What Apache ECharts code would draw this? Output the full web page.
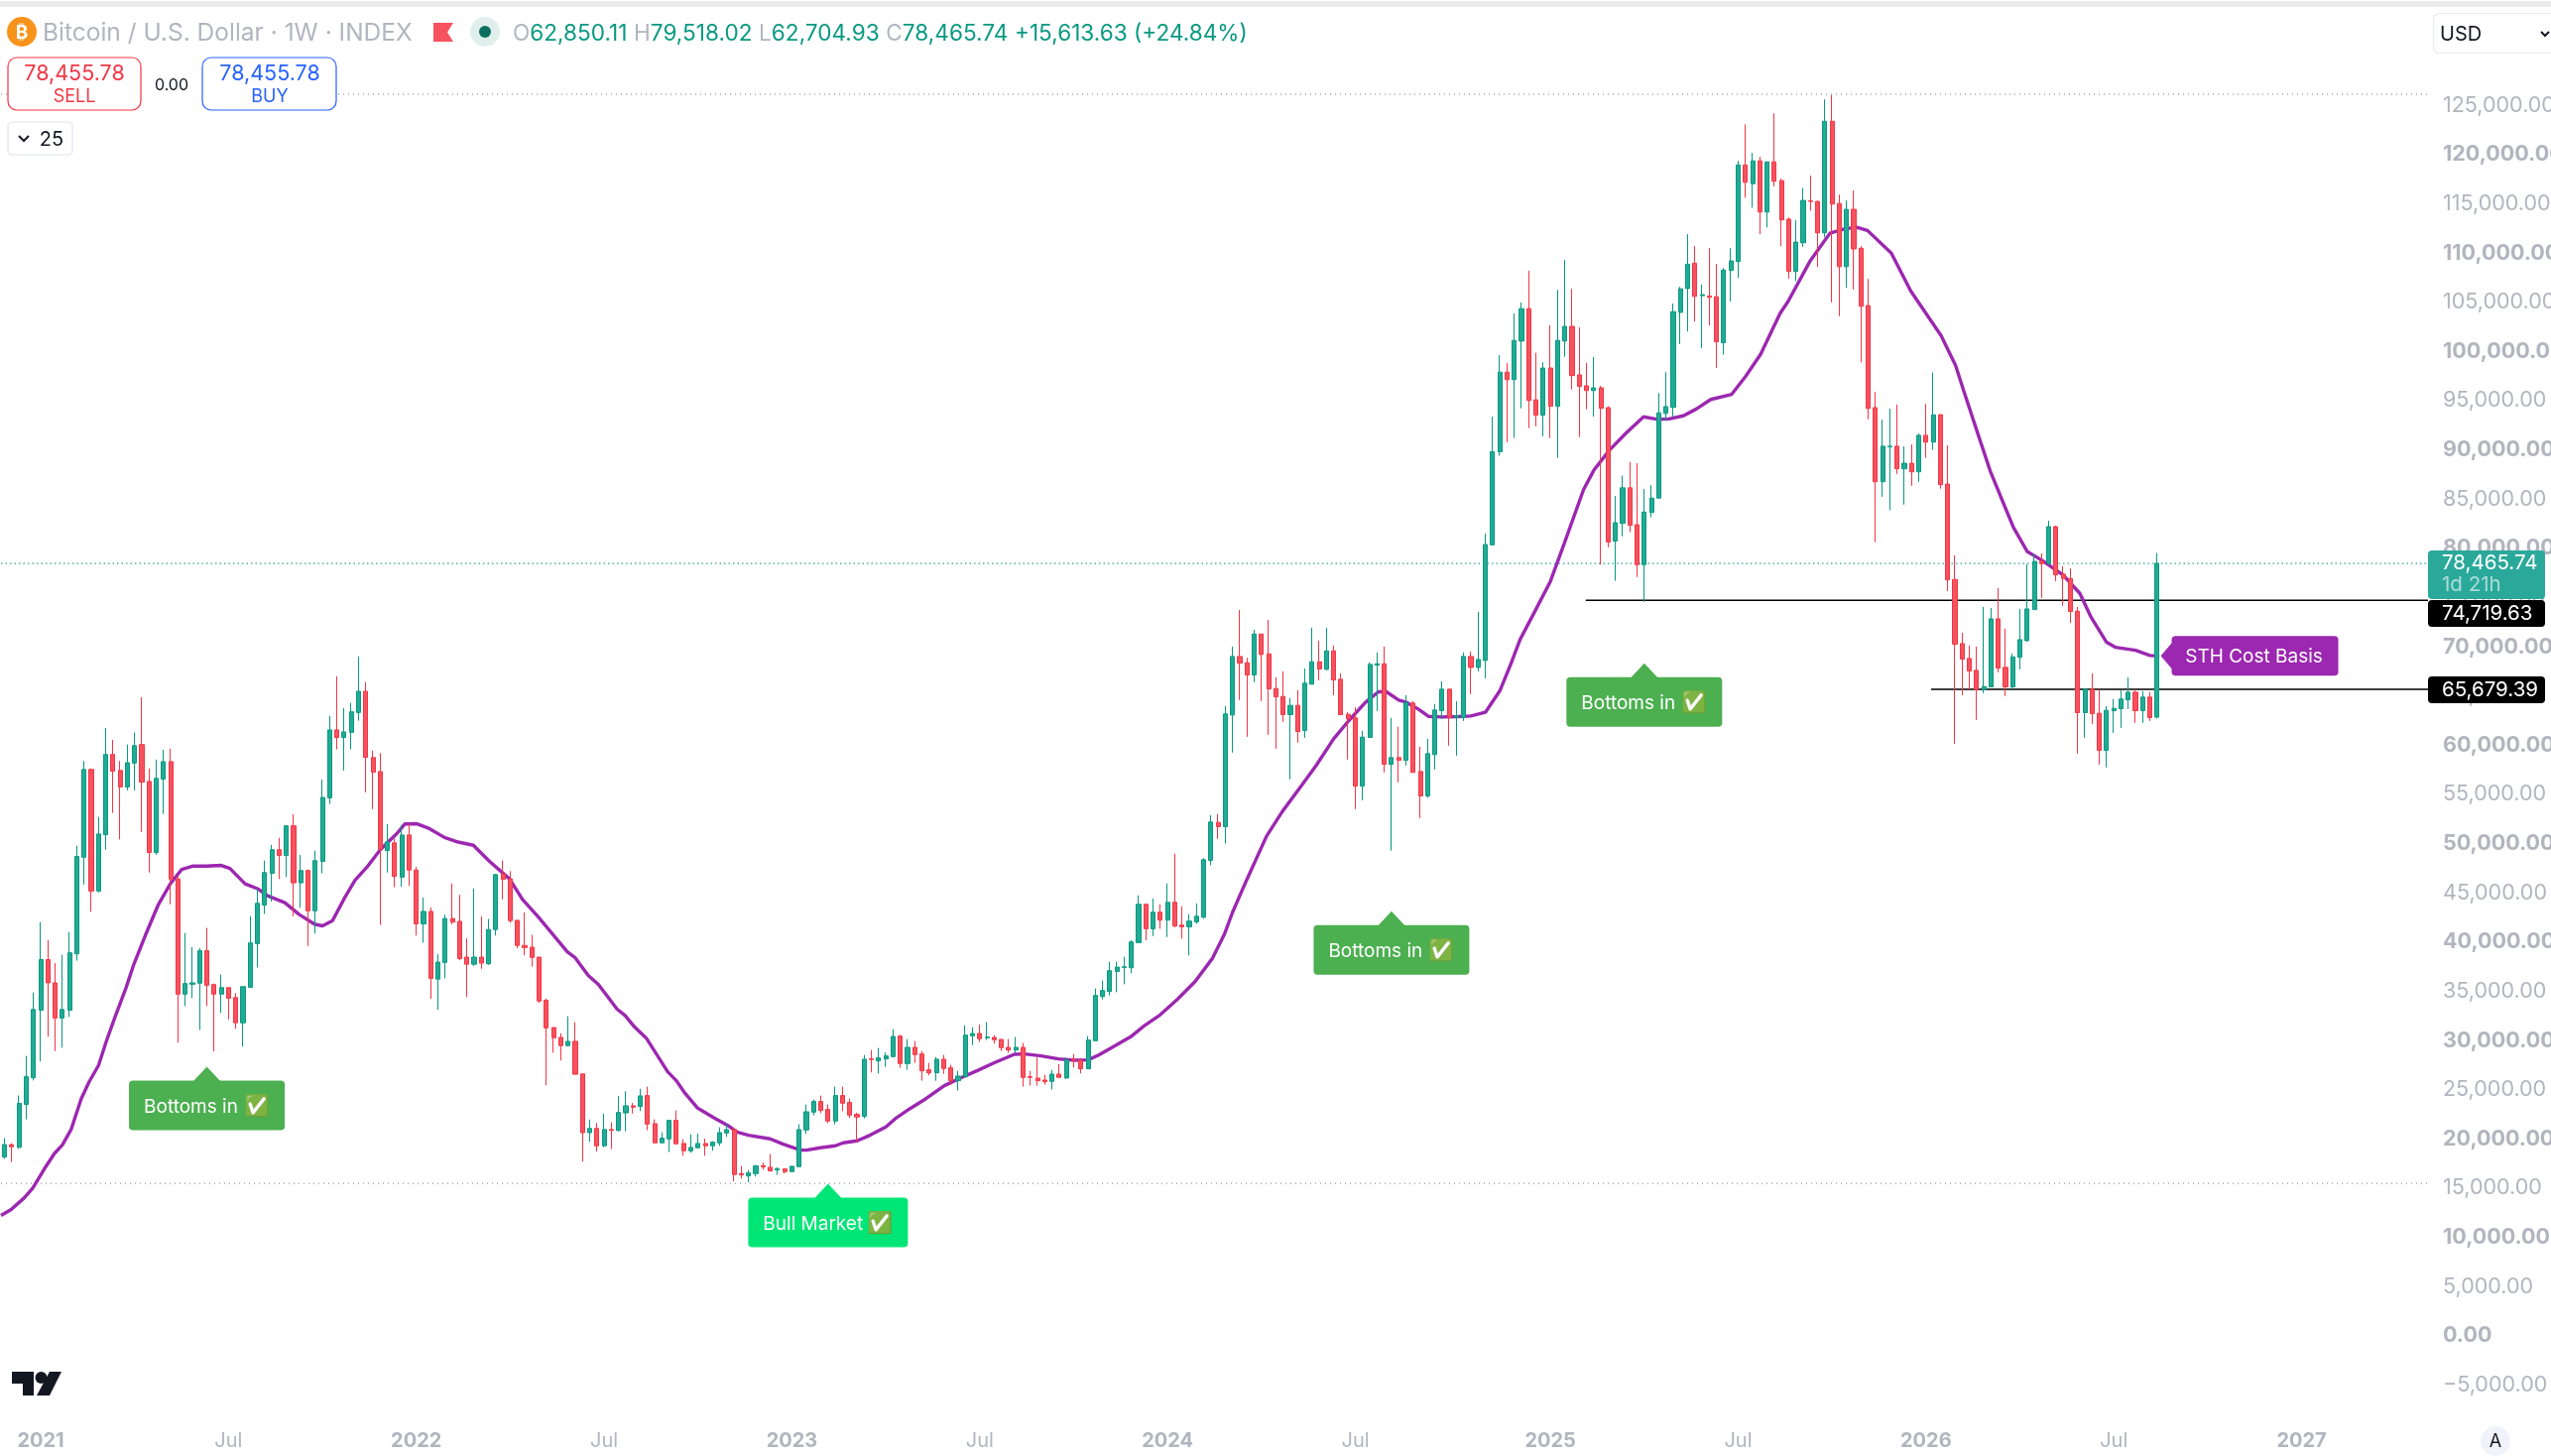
<!DOCTYPE html>
<html><head><meta charset="utf-8"><title>BTC weekly</title>
<script src="https://cdn.jsdelivr.net/npm/echarts@6/dist/echarts.min.js"></script>
<style>html,body{margin:0;padding:0;background:#fff}#c{width:2572px;height:1468px}</style></head>
<body><div id="c"></div>
<script>
// Weekly candles, each row is [open, close, low, high]
const candles2021 = [
[18167,19415,17993,20074],[19415,19200,17650,19550],[19138,23611,18980,24409],[23507,26316,21981,28431],[26213,33149,25937,34883],
[33079,38212,27877,42027],[38212,35853,30374,40188],[35853,32282,28918,37865],[32282,33149,29264,38697],[33079,38906,32386,41021],
[38801,48685,38108,49795],[48616,57528,45841,58396],[57528,45182,43067,57632],[45182,50974,45043,52708],[50905,59054,49379,61759],
[59054,57355,53124,60546],[57424,55760,50419,58396],[55760,58222,55413,60060],[58187,59956,55413,61274],[60060,56245,51182,64880],
[56315,49101,47055,57632],[49101,56627,48858,58535],[56557,58326,53020,59540],[58326,46396,43830,59644],[46396,34709,29785,46800],
[34709,35784,33495,40916],[35714,35853,34293,39495],[35818,39113,31067,39391],[39113,35610,33495,41437],[35679,34709,28883,35784],
[34709,35367,32802,36686],[35367,34293,32143,35367],[34362,31796,31171,34813],[31796,35471,29367,35471],[35402,39911,35402,42616],
[39842,43934,37414,45391],[43761,47055,42858,48269],[46986,49379,44107,49864],[49379,48789,46396,50592],[48789,51806,46604,51876],
[51806,46015,42616,52986],[46015,47263,43483,48858],[47263,43171,39599,47367],[43171,48269,40847,49275],[48199,54684,46985,56523],
[54650,61551,54026,62973],[61551,60788,59574,66996],[60788,61343,57424,63771],[61308,63389,59574,64291],[63320,65470,62488,69007],
[65470,58777,55205,66407],[58742,57251,53500,59436],[57320,49448,41749,59193],[49310,50176,47055,51980],[50072,46674,45564,50500],
[46595,50873,45623,51880]];
const candles2022 = [
[50873,47313,45695,52024],[47313,41847,40660,47637],[41847,43106,39942,44509],[43106,36310,34224,43502],[36238,37964,33109,38755],
[37928,42387,36310,42783],[42387,42027,41811,45947],[42099,38323,38143,44797],[38467,37748,34403,40373],[37748,38467,37568,45408],
[38467,37856,37280,42603],[37784,41272,37676,42351],[41272,46846,40660,46918],[46918,46378,44329,48284],[46414,42171,41955,47206],
[42207,39654,39366,42207],[39654,39438,38647,42999],[39474,38431,37496,40733],[38467,34008,33828,38467],[34080,31276,25450,34260],
[31312,30270,28758,31312],[30306,29477,27968,30737],[29477,29909,29405,32462],[29909,26565,26565,31852],[26601,20631,17682,26601],
[20631,21063,19697,21963],[21063,19300,18725,21603],[19300,20955,19156,22573],[20950,20870,18976,21675],[20849,22681,20777,24371],
[22645,23364,20777,24838],[23364,23220,22573,23650],[23292,24371,22825,25090],[24399,21512,20874,25306],[21546,19598,19598,21982],
[19598,20068,19598,20673],[19999,21881,18659,21948],[21881,19498,19498,22889],[19532,18793,18289,19968],[18793,19129,18592,20472],
[19096,19532,19096,20539],[19532,19297,18289,20035],[19297,19666,18793,19767],[19599,20639,19297,21177],[20606,20941,20203,21546],
[20941,16375,15671,21143],[16476,16341,15973,17249],[16241,16543,15570,16845],[16476,17249,16174,17349],[17282,17148,16879,17584],
[17114,16745,16677,18457],[16845,16979,16342,17114],[16946,16678,16476,17014]];
const candles2023 = [
[16678,17215,16678,17215],[17182,20941,17182,21478],[20908,22754,20505,23493],[22721,23794,22385,23996],[23794,22888,22620,24399],
[22989,21814,21612,23493],[21814,24399,21478,25306],[24399,23627,22821,25306],[23694,22418,22116,24097],[22486,22217,19699,22653],
[22284,28092,22083,28528],[28126,28059,26749,29032],[27924,28226,26648,29234],[28126,28428,27320,28797],[28360,30408,28260,31147],
[30442,27655,27219,30576],[27655,29301,27018,30139],[29301,28562,27723,29938],[28629,26917,25910,28931],[27018,26716,26447,27723],
[26716,28092,25910,28327],[28092,27152,26615,28528],[27219,25910,25507,27521],[25910,26380,24903,26917],[26313,30543,26313,31550],
[30475,30710,29535,31348],[30710,30173,29837,31617],[30274,30341,30039,31852],[30307,30072,29670,30543],[30106,29267,28931,30106],
[29301,29032,28729,30140],[29032,29301,28729,30341],[29301,26246,25306,29737],[26313,26246,25407,26917],[26179,25910,25407,28260],
[25977,25809,25507,26514],[25843,26581,25004,27018],[26581,26246,26246,27588],[26179,28025,26112,28260],[28092,27991,27253,28629],
[27991,27118,26648,28125],[27118,30039,27118,30442],[29972,34571,29972,35276],[34470,35074,34168,36082],[34974,37089,34571,37995],
[37019,37455,34902,37992],[37422,37489,35708,38495],[37388,40007,36818,40175],[39940,43833,39940,44739],[43833,41349,40175,43833],
[41349,43027,40611,44437],[43027,42222,41349,43833]];
const candles2024 = [
[42222,44035,40510,45948],[44035,41618,41517,48970],[41718,41551,40343,43632],[41551,42121,38631,42826],[42054,42624,41853,43934],
[42524,48365,42356,48533],[48298,52193,47795,52897],[52159,51722,50480,52998],[51722,63170,50017,63976],[63069,69011,59242,70018],
[69011,68340,64580,73744],[68373,67131,60853,68877],[67131,71294,66392,71730],[71294,69212,64479,71294],[69279,65721,61055,72737],
[65755,64915,59645,66896],[64949,63103,62364,67500],[63103,64043,56523,64781],[64043,61391,60249,65587],[61491,66292,60753,67802],
[66191,68474,66191,71931],[68474,67735,66594,70622],[67702,69582,67601,71931],[69582,66627,65083,70119],[66694,63103,63103,67299],
[63136,62666,58537,63338],[62767,55851,53501,63841],[55851,60820,54408,61458],[60786,68205,60786,68407],[68138,68272,63472,69414],
[68272,58067,57228,70018],[58067,58738,49272,62767],[58738,58470,56221,61861],[58470,64345,57933,65083],[64278,57228,57228,64479],
[57329,54844,52595,59846],[54844,59141,54643,60652],[59041,63573,57530,64177],[63506,65688,62666,66493],[65688,62834,59947,65688],
[62834,62967,58940,64479],[62800,69011,62465,69414],[69011,67903,65184,69515],[67903,68709,67500,73543],[68608,80385,66795,81495],
[80349,89817,80349,93390],[89817,97898,89402,99633],[97898,97135,90789,98835],[97135,101124,91205,103863],[101054,104349,94222,104973],
[104349,95020,92211,108198],[95089,93528,92385,99875],[93528,98315,91378,98904]];
const candles2025 = [
[98315,94431,91205,102650],[94431,101124,89194,106256],[101054,102546,99459,109308],[102546,97551,96129,106360],[97621,96441,91309,102442],
[96510,96025,94118,98835],[96025,96303,93390,99424],[96303,94222,78339,96510],[94292,80627,80106,94430],[80731,82604,76708,85310],
[82535,86142,81217,87390],[86142,82327,81633,88777],[82396,78339,77090,88638],[78339,83680,74559,86038],[83645,85102,83160,86419],
[85102,93771,85102,95784],[93702,94396,92939,97898],[94326,104037,93355,104869],[103967,106360,100742,106568],[106395,108857,102026,111909],
[108961,105597,103031,110695],[105667,105770,100326,106776],[105632,105493,102650,110487],[105562,100985,98314,108892],[100880,108267,99667,108476],
[108233,109204,105077,110487],[109134,118949,107470,119365],[118949,117180,115620,123076],[117042,119365,114614,120163],[119365,114163,111909,119781],
[114163,119261,112603,119261],[119261,117285,116764,124186],[117354,113366,110695,117562],[113435,108129,107401,113608],[108129,111111,107158,113331],
[111042,115342,110626,116625],[115307,115238,114302,117874],[115238,112048,108580,115307],[112048,123388,111597,125608],[123388,114961,104990,126058],
[115030,108614,103586,115932],[108614,114441,106464,115342],[114441,110418,106291,116348],[110487,104591,98904,110695],[104661,94222,93112,107366],
[94292,86765,80627,95888],[86765,90373,85241,93078],[90303,90373,83853,94188],[90373,88083,87562,94604],[88083,88638,84442,90373],
[88638,87771,86350,90546],[87771,91482,86765,91656]];
const candles2026 = [
[91482,90789,89194,94674],[90789,93563,89991,97863],[93578,86463,86060,93578],[86529,76798,75657,90457],[76832,70252,60147,79282],
[70319,68741,65082,71427],[68808,67533,65653,70118],[67600,65653,62565,70017],[65653,65955,65284,74046],[65921,72837,65921,73945],
[72837,67835,67398,75959],[67902,65921,64981,71830],[65921,68976,65686,69312],[68943,70722,67701,73844],[70621,73844,70520,78376],
[73777,78678,73777,79450],[78678,78443,74952,79484],[78477,82203,78275,82807],[82203,77302,76664,82304],[77369,76932,74146,78175],
[76932,73575,72434,77973],[73609,63303,59140,74046],[63303,65686,60751,65787],[65686,63202,62161,67298],[63236,59476,58033,65653],
[59476,63538,57730,63974],[63504,63739,61255,64680],[63706,64680,61758,65586],[64612,65384,63672,66895],[65384,63504,62262,65653],
[63504,64881,62262,65485],[64881,62800,62463,65384],[62850.11,78465.74,62704.93,79518.02]];

// Moving average ("STH Cost Basis"): week position on the time scale, and its value
const maWeek = [0,1.4,3.2,4.4,6,7.4,8.5,9.7,11.1,12.2,13.5,14.6,15.7,17.3,18.4,20,21.8,23.5,25,26.6,28.4,30.5,31.7,33.8,35.6,36.9,39.3,41.3,43.4,44.5,45.9,47.6,49,50.7,52.5,54.8,55.9,57.5,59.3,61.4,63.3,65.4,67.6,70.4,72.2,74.4,78.4,79.5,81.3,82.7,85.3,86.4,87.7,89.4,92.3,93.5,94.6,96.4,98.7,100.8,101.9,103.5,106.5,108.3,110.7,111.5,113.4,115.5,116.6,118.5,120.3,122.5,123.8,125.8,128,130.6,132.8,135.1,137.6,140.3,141.7,144,146.4,148.6,150.5,151.9,153.6,156.4,158.2,160.5,162.8,165.3,167.7,169.4,170.5,172.5,175.2,177.4,180.1,182.1,184.5,186.6,188.9,190.7,191.8,193.5,194.6,196.2,197.6,199.4,201.7,203.5,205.5,207.5,209,210.3,212.3,214.5,216.4,219.1,220.5,222.7,225,227.4,229.2,230.9,232.9,234.7,236.7,239.6,241.5,243.6,246.3,247.4,250.5,253.2,255.3,257,258.4,261.7,264.4,268.6,270.6,271.7,273.5,275.4,276.8,278.6,280.5,282.7,285.5,287.8,289.3,291.5,292.7,295.5,297.5,298.8];
const maValue = [12215,12819,13994,15000,16953,18514,19381,20941,24062,25796,27461,29958,32212,35333,37761,40709,43830,45979,47367,47714,47714,47783,47471,45911,45391,44697,44003,42789,41818,41644,42165,44523,46257,47644,49379,51009,51989,52025,51521,50622,50154,49831,48213,46415,44329,42531,39007,38396,36598,35698,33181,32534,31382,30173,26816,25910,24735,23157,22150,21277,20706,20371,19999,19464,18860,18860,19096,19297,19599,19800,20371,21210,22049,23056,24063,25407,26178,26917,27756,28595,28629,28428,28125,27991,28025,28494,29197,30372,31446,32620,34131,35979,38328,40846,43028,46385,50749,53267,55952,57966,60652,62498,64345,65419,65419,64580,64345,63673,62935,62868,62901,62968,63338,65519,68205,70723,73518,76639,80454,85982,87910,89992,91725,93356,93112,93147,93459,94153,95124,95644,97447,99701,103863,105077,109238,112013,112464,112603,112291,109995,106134,101602,98581,96063,92034,87838,85325,82136,79685,78712,77268,75422,73072,70453,69950,69648,69111,69077];

const TOTAL_WEEKS = 336;
const tickWeek = [5,31,57,83,109,135,161,187,214,240,266,292,318];
const tickText = ['2021','Jul','2022','Jul','2023','Jul','2024','Jul','2025','Jul','2026','Jul','2027'];

const hiLevel = 126130, loLevel = 15476, lastClose = 78465.74;
const supportA = 74719.63, supportAFrom = 219.4;
const supportB = 65679.39, supportBFrom = 267.2;

const noteWeek  = [28.5,192.5,227.5,114.5,299];
const notePrice = [27322,43132,68307,15439,69077];
const noteText  = ['Bottoms in','Bottoms in','Bottoms in','Bull Market','STH Cost Basis'];
const noteIcon  = ['✅','✅','✅','✅',''];
const noteColor = ['#4caf50','#4caf50','#4caf50','#00e676','#9c27b0'];
const noteSide  = ['up','up','up','up','left'];

const candles = [].concat(candles2021,candles2022,candles2023,candles2024,candles2025,candles2026);
const categories = Array.from({length:TOTAL_WEEKS},(_,i)=>'W'+i);
const FONT = 'Inter';
const AXC = '#b2b5be';

function money(v){
  const s = Math.abs(v).toLocaleString('en-US',{minimumFractionDigits:2,maximumFractionDigits:2});
  return (v<0?'\u2212':'')+s;
}
function noteItem(params, api){
  const p = api.coord([api.value(0), api.value(1)]);
  const i = params.dataIndex, side = noteSide[i], col = noteColor[i];
  const kids = [];
  if(side==='up'){
    const w = i===3?161:157, h=50, gap=14;
    const x=p[0]-w/2, y=p[1]+gap;
    kids.push({type:'polygon',shape:{points:[[p[0],p[1]],[p[0]+14,y+1],[p[0]-14,y+1]]},style:{fill:col}});
    kids.push({type:'rect',shape:{x,y,width:w,height:h,r:4},style:{fill:col}});
    kids.push({type:'text',style:{x:x+15,y:y+h/2+1.5,text:noteText[i],fill:'#fff',font:'19px '+FONT,align:'left',verticalAlign:'middle'}});
    kids.push({type:'text',style:{x:x+w-15,y:y+h/2+1,text:noteIcon[i],fill:'#fff',font:'21px '+FONT,align:'right',verticalAlign:'middle'}});
  } else {
    const w=168,h=40,gap=11;
    const x=p[0]+gap, y=p[1]-h/2;
    kids.push({type:'polygon',shape:{points:[[p[0],p[1]],[x+1,p[1]-14],[x+1,p[1]+14]]},style:{fill:col}});
    kids.push({type:'rect',shape:{x,y,width:w,height:h,r:4},style:{fill:col}});
    kids.push({type:'text',style:{x:x+w/2-1,y:p[1]+1.5,text:noteText[i],fill:'#fff',font:'19px '+FONT,align:'center',verticalAlign:'middle'}});
  }
  return {type:'group',children:kids};
}
function levelLine(price, from, color, type, width){
  return {type:'line',xAxisIndex:1,yAxisIndex:0,z:1,silent:true,symbol:'none',animation:false,
    data:[[from,price],[TOTAL_WEEKS,price]],lineStyle:{color,type,width}};
}
const chip=(x,y,w,h,fill,r,stroke)=>({type:'rect',shape:{x,y,width:w,height:h,r:r||0},style:{fill,stroke:stroke||null,lineWidth:stroke?1.2:0},z:50});
const txt=(x,y,text,font,fill,align)=>({type:'text',style:{x,y,text,font:font+' '+FONT,fill,align:align||'center',verticalAlign:'middle'},z:51});

const graphics = [
  chip(0,1,2572,6,'#ebebeb'),
  // symbol header
  {type:'circle',shape:{cx:22,cy:32,r:15},style:{fill:'#f7931a'},z:51},
  txt(22,33,'₿','bold 19px','#fff'),
  txt(43,34,'Bitcoin / U.S. Dollar · 1W · INDEX','24.5px',AXC,'left'),
  {type:'polygon',shape:{points:[[437,23],[457,23],[451,32.5],[457,42],[437,42]]},style:{fill:'#f7525f'},z:51},
  {type:'circle',shape:{cx:489,cy:32,r:15},style:{fill:'#e0efec'},z:51},
  {type:'circle',shape:{cx:489,cy:32,r:6},style:{fill:'#0a6f5e'},z:52},
  {type:'text',z:51,style:{x:517,y:34,verticalAlign:'middle',
    text:'{g|O}{v|62,850.11}  {g|H}{v|79,518.02}  {g|L}{v|62,704.93}  {g|C}{v|78,465.74}  {v|+15,613.63 (+24.84%)}',
    rich:{g:{fill:AXC,font:'22.6px '+FONT},v:{fill:'#089981',font:'22.6px '+FONT}}}},
  // trade buttons (white behind, hide the dotted level)
  chip(142,88,62,12,'#fff'),
  chip(8,58,134,53,'#fff',9,'#f23645'),
  txt(75,75,'78,455.78','21.5px','#f23645'), txt(75,98,'SELL','18px','#f23645'),
  txt(173,86,'0.00','16px','#131722'),
  chip(204,58,135,53,'#fff',9,'#2962ff'),
  txt(272,75,'78,455.78','21.5px','#2962ff'), txt(272,98,'BUY','18px','#2962ff'),
  chip(8,123,65,33,'#fff',4,'#e0e3eb'),
  {type:'polyline',shape:{points:[[19,137],[24,142],[29,137]]},style:{stroke:'#131722',lineWidth:2,fill:null},z:51},
  txt(52,141,'25','20px','#131722'),
  // currency selector
  {type:'rect',shape:{x:2453.5,y:13.5,width:130,height:40,r:6},style:{fill:'#fff',stroke:'#e8eaee',lineWidth:1.2},z:50},
  txt(2460,35,'USD','20px','#131722','left'),
  {type:'polyline',shape:{points:[[2562,32],[2566,36],[2570,32]]},style:{stroke:'#131722',lineWidth:2,fill:null},z:51},
  // price tags on the scale
  chip(2448,555,118,49,'#2aa99b',4),
  txt(2462,568,'78,465.74','20.5px','#fff','left'),
  txt(2462,590,'1d 21h','20.5px','rgba(255,255,255,0.6)','left'),
  chip(2448,605,118,27,'#000',4),
  txt(2462,619,'74,719.63','20.5px','#fff','left'),
  chip(2448,682,118,27,'#000',4),
  txt(2462,696,'65,679.39','20.5px','#fff','left'),
  // logo
  {type:'polygon',shape:{points:[[12,1383],[34,1383],[34,1407],[23,1407],[23,1395],[12,1395]]},style:{fill:'#131722'},z:51},
  {type:'circle',shape:{cx:41.5,cy:1389,r:6},style:{fill:'#131722'},z:51},
  {type:'polygon',shape:{points:[[50,1383],[62,1383],[50,1407],[37,1407]]},style:{fill:'#131722'},z:51},
  // auto button
  {type:'circle',shape:{cx:2516,cy:1453,r:15},style:{fill:'#f0f3fa'},z:51},
  txt(2516,1454,'A','18px','#131722')
];

const chart = echarts.init(document.getElementById('c'),null,{renderer:'canvas'});
chart.setOption({
  animation:false,
  backgroundColor:'#fff',
  textStyle:{fontFamily:FONT},
  grid:{left:1,width:2447,top:7,height:1439,containLabel:false,outerBoundsMode:'none'},
  xAxis:[{
    type:'category',data:categories,boundaryGap:true,
    axisLine:{show:false},axisTick:{show:false},splitLine:{show:false},
    axisLabel:{
      show:true,hideOverlap:false,margin:7,verticalAlign:'middle',color:AXC,fontSize:20,fontFamily:FONT,
      interval:(i)=>tickWeek.includes(i),
      formatter:(v,i)=>{const k=tickWeek.indexOf(i);if(k<0)return '';const t=tickText[k];return t==='Jul'?'{m|Jul}':'{y|'+t+'}';},
      rich:{m:{color:AXC,fontSize:20,fontFamily:FONT},y:{color:AXC,fontSize:20,fontWeight:'bold',fontFamily:FONT}}
    }
  },{type:'value',show:false,min:0,max:TOTAL_WEEKS,gridIndex:0,splitLine:{show:false}}],
  yAxis:{
    type:'value',position:'right',min:-10000,max:135000,interval:5000,scale:false,
    axisLine:{show:false},axisTick:{show:false},splitLine:{show:false},
    axisLabel:{
      show:true,align:'left',margin:15,color:AXC,fontSize:21.5,fontFamily:FONT,showMinLabel:true,showMaxLabel:true,
      formatter:(v)=>{ if(v<-5000||v>125000) return ''; return (v%10000===0?'{b|':'{n|')+money(v)+'}'; },
      rich:{b:{color:AXC,fontSize:21.5,fontWeight:'bold',fontFamily:FONT},n:{color:AXC,fontSize:21.5,fontFamily:FONT}}
    }
  },
  series:[
    levelLine(hiLevel,0,'#787b86',[1,4],1),
    levelLine(loLevel,0,'#787b86',[1,4],1),
    levelLine(lastClose,0,'#26a69a',[1.5,3],1.2),
    levelLine(supportA,supportAFrom,'#000','solid',1.4),
    levelLine(supportB,supportBFrom,'#000','solid',1.4),
    {name:'STH Cost Basis',type:'line',xAxisIndex:1,yAxisIndex:0,z:2,symbol:'none',smooth:false,
     data:maWeek.map((w,i)=>[w,maValue[i]]),lineStyle:{color:'#9c27b0',width:3.4}},
    {name:'BTCUSD',type:'candlestick',xAxisIndex:0,yAxisIndex:0,z:3,barWidth:4.6,data:candles,
     itemStyle:{color:'#22ab94',color0:'#f7525f',borderColor:'#089981',borderColor0:'#f23645',borderWidth:1}},
    {type:'custom',xAxisIndex:1,yAxisIndex:0,z:4,clip:false,silent:true,
     data:noteWeek.map((w,i)=>[w,notePrice[i]]),renderItem:noteItem}
  ],
  graphic:{elements:graphics}
});
</script></body></html>
